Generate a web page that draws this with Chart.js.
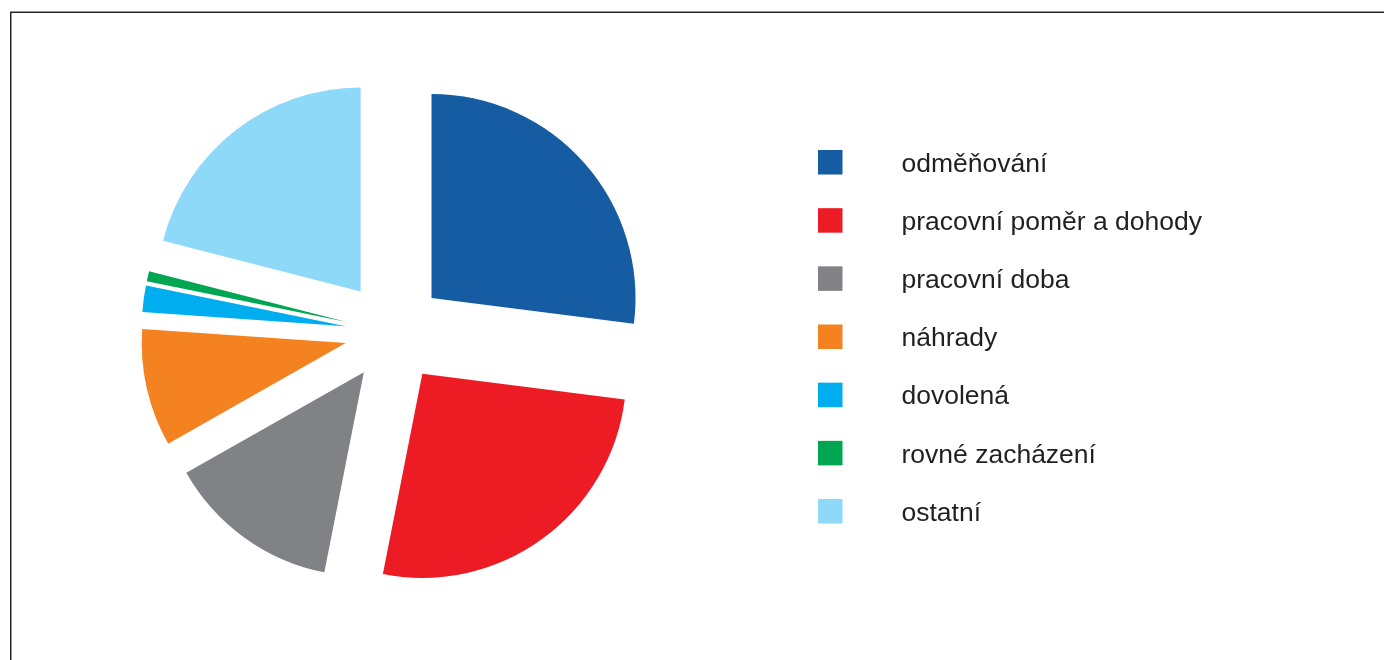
<!DOCTYPE html>
<html>
<head>
<meta charset="utf-8">
<script src="https://cdn.jsdelivr.net/npm/chart.js@4/dist/chart.umd.min.js"></script>
<style>
  html, body { margin: 0; padding: 0; background: #fff; }
  #wrap { width: 1384px; height: 660px; }
</style>
</head>
<body>
<div id="wrap"><canvas id="pie" width="1384" height="660"></canvas></div>
<script>
// data (shares in %)
const labels = ["odměňování", "pracovní poměr a dohody", "pracovní doba", "náhrady", "dovolená", "rovné zacházení", "ostatní"];
const values = [27.0, 26.1, 13.7, 9.3, 2.1, 0.8, 21.0];
const colors = ["#155ca2", "#ed1c24", "#808285", "#f58220", "#00aeef", "#00a651", "#8ed8f8"];

// how far each slice is pulled out (px)
const explode = [52, 51, 49, 48, 47, 47, 52];

// push slices out along their middle angle (same radius for all of them)
const explodePlugin = {
    id: 'explode',
    afterDatasetsUpdate(chart) {
        chart.getDatasetMeta(0).data.forEach((arc, i) => {
            const mid = (arc.startAngle + arc.endAngle) / 2;
            arc.x += Math.cos(mid) * explode[i];
            arc.y += Math.sin(mid) * explode[i];
        });
    }
};

// legend on the right + the frame line
const sideLegend = {
    id: 'sideLegend',
    afterDraw(chart) {
        const ctx = chart.ctx;
        ctx.save();
        ctx.strokeStyle = '#262626';
        ctx.lineWidth = 1.5;
        ctx.beginPath();
        ctx.moveTo(10.75, 660);
        ctx.lineTo(10.75, 12.25);
        ctx.lineTo(1384, 12.25);
        ctx.stroke();

        ctx.font = '26.5px "Liberation Sans", Arial, sans-serif';
        ctx.textBaseline = 'alphabetic';
        labels.forEach((text, i) => {
            const cy = 162.3 + i * 58.17;
            ctx.fillStyle = colors[i];
            ctx.fillRect(818, cy - 12.3, 24.5, 24.5);
            ctx.fillStyle = '#231f20';
            ctx.fillText(text, 901.5, cy + 9.5);
        });
        ctx.restore();
    }
};

new Chart(document.getElementById('pie').getContext('2d'), {
    type: 'pie',
    data: {
        labels: labels,
        datasets: [{
            data: values,
            backgroundColor: colors,
            borderWidth: 0
        }]
    },
    options: {
        responsive: false,
        animation: false,
        radius: 204,
        layout: { padding: { left: 0, right: 599, top: 5, bottom: 0 } },
        plugins: {
            legend: { display: false },
            tooltip: { enabled: false }
        }
    },
    plugins: [explodePlugin, sideLegend]
});
</script>
</body>
</html>
